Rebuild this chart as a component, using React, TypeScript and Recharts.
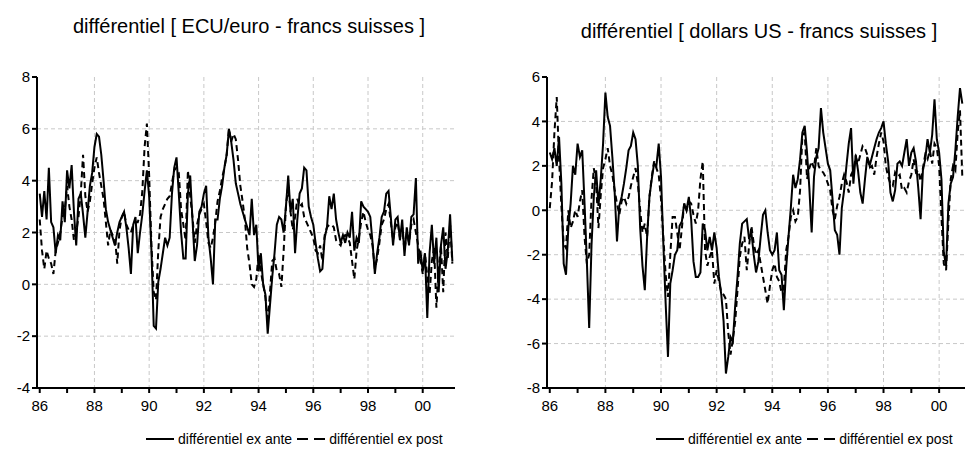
import React from "react";
import { LineChart, Line, XAxis, YAxis, CartesianGrid } from "recharts";

const FONT = "'Liberation Sans', Arial, Helvetica, sans-serif";

// monthly observations starting 1986:01
const START_YEAR = 1986;
const YEAR_TICKS = [1986, 1987, 1988, 1989, 1990, 1991, 1992, 1993, 1994, 1995, 1996, 1997, 1998, 1999, 2000];
const GRID_YEARS = [1988, 1990, 1992, 1994, 1996, 1998, 2000];

// ECU/euro - francs suisses (1986:01 .. 2001:02)
const ecuAnte = [
  3.5, 2.6, 3.6, 2.5, 4.5, 2.4, 2.2, 1.2, 1.9, 1.7, 3.2, 2.4, // 86
  4.4, 3.7, 4.6, 2.8, 1.5, 3.3, 3.5, 2.7, 1.8, 2.8, 3.8, 4.3, // 87
  5.3, 5.8, 5.7, 5.0, 4.0, 2.9, 2.4, 2.1, 1.8, 1.5, 2.0, 2.4, // 88
  2.6, 2.8, 2.2, 1.4, 0.4, 2.3, 2.6, 1.2, 2.0, 2.7, 3.6, 4.4, // 89
  3.4, 1.3, -1.6, -1.7, 0.1, 0.6, 1.2, 1.8, 1.5, 1.8, 3.5, 4.5, // 90
  4.9, 3.5, 2.0, 1.0, 1.0, 3.5, 4.2, 2.5, 0.9, 1.5, 2.8, 3.0, // 91
  3.5, 3.8, 1.8, 1.0, 0.0, 2.5, 2.5, 3.3, 3.8, 4.5, 5.0, 6.0, // 92
  5.5, 4.8, 3.9, 3.5, 3.1, 2.8, 2.5, 2.2, 1.9, 3.3, 1.9, 2.3, // 93
  0.5, 1.2, 0.0, -0.4, -1.9, -0.8, 0.3, 1.2, 2.3, 2.6, 2.5, 2.0, // 94
  3.0, 4.2, 2.8, 3.3, 1.2, 2.5, 3.5, 3.7, 4.5, 4.4, 3.0, 2.6, // 95
  2.3, 1.6, 1.0, 0.5, 0.6, 1.8, 2.2, 3.4, 2.9, 3.5, 2.5, 2.0, // 96
  1.6, 1.9, 1.6, 2.0, 1.8, 2.8, 1.3, 1.8, 1.6, 3.2, 3.0, 2.9, // 97
  2.8, 2.6, 1.6, 0.4, 1.2, 1.8, 2.6, 2.8, 3.5, 3.6, 2.6, 1.5, // 98
  2.5, 2.6, 1.7, 2.5, 1.1, 2.2, 1.5, 2.6, 2.7, 4.1, 0.8, 1.3, // 99
  0.5, 1.2, -1.3, 1.2, 2.3, 0.8, 1.8, -0.3, 1.5, 2.2, 0.6, 1.3, // 00
  2.7, 0.9, // 01
];
const ecuPost = [
  2.5, 1.3, 0.6, 1.3, 1.0, 0.8, 0.4, 1.3, 1.6, 2.0, 2.6, 2.9,
  3.8, 3.0, 2.5, 1.7, 2.0, 2.6, 3.5, 5.0, 3.4, 2.8, 3.2, 3.9,
  4.5, 4.9, 4.3, 3.8, 3.3, 2.4, 1.5, 2.1, 1.9, 1.8, 0.8, 2.1,
  2.6, 2.8, 2.3, 2.1, 2.0, 2.3, 2.4, 2.4, 2.7, 3.6, 5.3, 6.2,
  4.2, 1.5, -0.3, -0.6, 1.3, 2.6, 2.9, 3.1, 3.3, 3.4, 3.9, 4.4,
  4.5, 4.3, 2.9, 2.3, 1.7, 4.4, 3.4, 2.6, 1.6, 2.3, 2.7, 2.9,
  3.1, 2.4, 1.6, 1.4, 1.8, 2.4, 3.2, 3.6, 4.1, 4.5, 5.0, 6.0,
  5.5, 5.8, 5.6, 4.8, 3.8, 3.2, 2.5, 1.4, 0.8, 0.0, -0.1, 0.2,
  1.2, 0.5, 0.0, -0.5, -1.5, -0.3, 0.9, 1.0, 0.5, 0.4, -0.1, 1.3,
  3.0, 3.8, 2.8, 2.1, 2.6, 3.3, 3.0, 3.1, 2.6, 2.4, 2.2, 2.0,
  1.8, 1.3, 1.2, 1.5, 0.9, 1.9, 2.2, 2.3, 2.3, 2.2, 1.7, 1.6,
  1.5, 1.8, 1.9, 1.8, 1.6, 0.9, 0.2, 1.3, 1.8, 2.4, 2.8, 2.4,
  2.1, 1.9, 1.5, 0.6, 1.0, 1.6, 2.3, 2.5, 2.9, 3.1, 2.4, 1.7,
  2.2, 2.4, 1.8, 2.2, 1.3, 2.0, 1.6, 2.3, 2.5, 2.0, 1.5, 1.0,
  0.4, 1.2, 0.3, -0.4, 0.9, 1.4, -0.9, 0.6, 1.5, -0.3, 2.0, 1.0,
  2.3, 0.8,
];

// dollars US - francs suisses (1986:01 .. 2000:11)
const usdAnte = [
  2.6, 2.3, 2.8, 2.0, 3.3, 1.2, -2.4, -2.9, -0.8, 0.3, 2.0, 1.6,
  3.0, 2.4, 2.7, 0.3, -2.3, -5.3, -1.6, 0.6, 1.8, 0.2, 1.4, 3.0,
  5.3, 4.2, 3.8, 2.4, 0.8, -1.4, 0.2, 0.6, 1.2, 1.9, 2.7, 2.9,
  3.5, 3.2, 2.0, -0.8, -2.5, -3.6, -1.2, 0.6, 1.4, 2.1, 2.0, 3.0,
  1.5, -1.5, -4.2, -6.6, -3.3, -2.7, -2.0, -1.8, -0.7, -0.5, 0.3, 0.0,
  0.6, -0.4, -2.3, -3.0, -3.0, -2.8, -0.6, -0.9, -1.8, -1.2, -1.8, -1.0,
  -1.7, -3.0, -3.8, -5.0, -7.35, -6.6, -5.7, -5.9, -4.3, -3.0, -1.5, -0.6,
  -0.5, -0.4, -1.3, -1.0, -2.0, -2.8, -2.3, -1.2, -0.2, 0.0, -1.0, -1.8,
  -2.0, -1.8, -1.0, -2.7, -2.9, -4.5, -2.6, -1.2, 0.1, 1.6, 1.0, 1.4,
  2.3, 3.5, 3.8, 2.6, 1.0, -1.0, 1.5, 2.4, 2.8, 4.6, 3.5, 2.8,
  2.1, 1.8, 0.5, -0.9, -1.1, -2.0, 0.1, 0.9, 2.0, 3.0, 3.7, 1.2,
  2.5, 1.8, 0.8, 0.3, 1.4, 2.4, 2.0, 2.4, 2.8, 3.2, 3.5, 3.7,
  4.0, 3.0, 2.2, 0.8, 0.4, 0.9, 2.1, 2.2, 2.0, 2.6, 3.2, 2.0,
  2.6, 2.8, 2.2, 1.0, -0.4, 1.8, 2.3, 3.2, 2.6, 3.4, 5.0, 3.2,
  2.6, 1.4, -1.9, -2.5, 0.3, 1.2, 1.5, 2.7, 4.2, 5.5, 4.8,
];
const usdPost = [
  0.1, 1.3, 3.5, 5.1, 2.3, 0.2, -1.5, -1.7, 0.0, -0.8, -0.5, 0.0,
  -0.3, 0.4, 0.9, -1.2, -2.4, -2.0, 0.5, 1.9, 1.2, -0.8, 0.7, 1.9,
  2.3, 2.8, 2.0, 1.6, 0.9, 0.3, -0.2, 0.4, 0.6, 0.3, 0.6, 1.1,
  1.5, 1.9, 1.2, 0.0, -1.0, -0.6, -1.2, 0.6, 1.5, 2.2, 1.9, 1.6,
  0.5, -1.2, -2.9, -3.9, -2.0, -0.3, -0.3, -1.0, -1.8, -0.8, 0.3, 0.0,
  0.4, 0.3, -0.2, -0.6, 0.0, 1.4, 2.2, -1.8, -2.5, -2.1, -1.8, -3.3,
  -2.7, -3.2, -3.7, -3.8, -4.0, -5.5, -6.5, -5.8, -5.0, -3.6, -2.1, -1.5,
  -1.2, -2.7, -1.6, -0.7, -1.5, -2.0, -1.8, -2.4, -3.0, -3.6, -4.2, -3.4,
  -2.7, -2.4, -3.0, -3.2, -3.7, -3.5, -1.8, -1.2, -0.3, 0.0, -0.5, -0.3,
  0.9, 3.4, 3.5, 1.4, 1.9, 2.2, 1.9, 2.8, 2.0, 1.8, 1.7, 1.5,
  1.2, 0.9, 0.0, -0.4, 0.2, 0.6, 1.2, 1.6, 1.3, 0.8, 1.6, 1.8,
  2.4, 2.1, 2.5, 2.9, 2.8, 2.5, 1.9, 2.0, 1.6, 2.4, 3.0, 3.5,
  3.1, 2.0, 1.5, 1.2, 1.1, 1.7, 1.5, 1.6, 0.9, 1.0, 0.8, 1.3,
  1.6, 2.3, 1.7, 1.8, 1.3, 1.9, 2.5, 2.3, 2.7, 2.1, 3.0, 2.8,
  2.0, -0.3, -2.4, -2.7, -0.5, 1.4, 2.0, 1.8, 3.5, 4.5, 1.5,
];

const ecuTicks = [-4, -2, 0, 2, 4, 6, 8];
const usdTicks = [-8, -6, -4, -2, 0, 2, 4, 6];

function buildRows(ante: number[], post: number[]) {
  return ante.map((v, i) => ({ t: START_YEAR + i / 12, ante: v, post: post[i] }));
}

const yearLabel = (v: number) => (v % 2 === 0 ? String(v).slice(2) : "");

function LegendItem({ dashed, label }: { dashed?: boolean; label: string }) {
  return (
    <span style={{ display: "inline-flex", alignItems: "center", marginRight: 4 }}>
      <svg width={30} height={10} style={{ marginRight: 3 }}>
        <line x1={1} y1={5} x2={29} y2={5} stroke="#000" strokeWidth={2} strokeDasharray={dashed ? "11 6" : undefined} />
      </svg>
      {label}
    </span>
  );
}

interface PanelProps {
  left: number;
  title: string;
  titleTop: number;
  ante: number[];
  post: number[];
  ticks: number[];
  xDomain: [number, number];
}

function Panel({ left, title, titleTop, ante, post, ticks, xDomain }: PanelProps) {
  const rows = buildRows(ante, post);
  const inner = ticks.slice(1, -1);
  return (
    <div style={{ position: "absolute", left, top: 0, width: 480, height: 466 }}>
      <div
        style={{
          position: "absolute",
          top: titleTop,
          left: 0,
          width: 498,
          textAlign: "center",
          fontFamily: FONT,
          fontSize: 20,
          color: "#000",
          whiteSpace: "nowrap",
        }}
      >
        {title}
      </div>
      <LineChart width={480} height={466} data={rows} margin={{ top: 77, right: 25, bottom: 53, left: 8 }}>
        <CartesianGrid stroke="#c8c8c8" strokeDasharray="4 3" horizontalValues={inner} verticalValues={GRID_YEARS} />
        <XAxis
          dataKey="t"
          type="number"
          domain={xDomain}
          ticks={YEAR_TICKS}
          interval={0}
          tickFormatter={yearLabel}
          allowDataOverflow
          height={25}
          tickSize={5}
          tickMargin={7}
          axisLine={{ stroke: "#000", strokeWidth: 2 }}
          tickLine={{ stroke: "#000", strokeWidth: 2 }}
          tick={{ fill: "#000", fontSize: 15, fontFamily: FONT }}
        />
        <YAxis
          type="number"
          domain={[ticks[0], ticks[ticks.length - 1]]}
          ticks={ticks}
          interval={0}
          width={29}
          tickSize={5}
          tickMargin={2}
          axisLine={{ stroke: "#000", strokeWidth: 2 }}
          tickLine={{ stroke: "#000", strokeWidth: 2 }}
          tick={{ fill: "#000", fontSize: 15, fontFamily: FONT }}
        />
        <Line dataKey="ante" type="linear" stroke="#000" strokeWidth={2} dot={false} isAnimationActive={false} />
        <Line
          dataKey="post"
          type="linear"
          stroke="#000"
          strokeWidth={2}
          strokeDasharray="6 4"
          dot={false}
          isAnimationActive={false}
        />
      </LineChart>
      <div
        style={{
          position: "absolute",
          top: 431,
          left: 145,
          fontFamily: FONT,
          fontSize: 14,
          color: "#000",
          whiteSpace: "nowrap",
          display: "flex",
        }}
      >
        <LegendItem label="différentiel ex ante" />
        <LegendItem dashed label="différentiel ex post" />
      </div>
    </div>
  );
}

export default function App() {
  return (
    <div style={{ position: "absolute", left: 0, top: 0, width: 968, height: 466, background: "#fff" }}>
      <Panel
        left={0}
        title="différentiel [ ECU/euro - francs suisses ]"
        titleTop={15}
        ante={ecuAnte}
        post={ecuPost}
        ticks={ecuTicks}
        xDomain={[1985.9, 2001.18]}
      />
      <Panel
        left={510}
        title="différentiel [ dollars US - francs suisses ]"
        titleTop={20}
        ante={usdAnte}
        post={usdPost}
        ticks={usdTicks}
        xDomain={[1985.9, 2000.93]}
      />
    </div>
  );
}
